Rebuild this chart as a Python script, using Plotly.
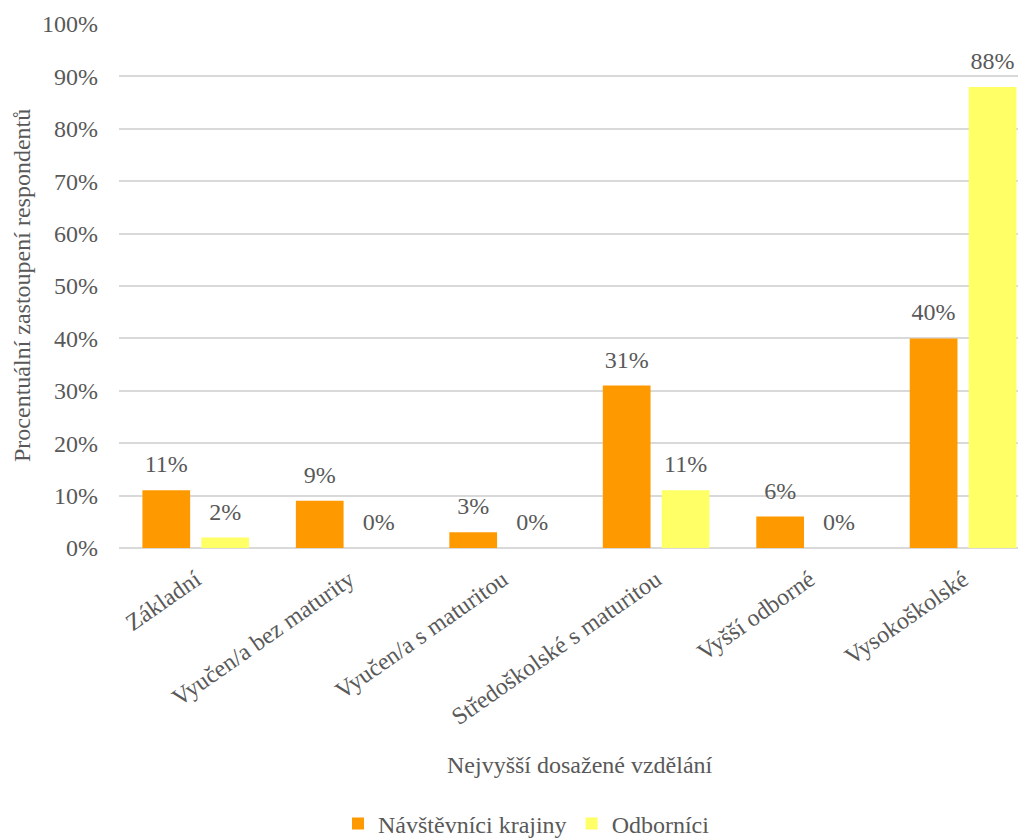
import plotly.graph_objects as go

categories = ["Základní", "Vyučen/a bez maturity", "Vyučen/a s maturitou",
              "Středoškolské s maturitou", "Vyšší odborné", "Vysokoškolské"]
navstevnici = [11, 9, 3, 31, 6, 40]
odbornici = [2, 0, 0, 11, 0, 88]
y_ticks = [0, 10, 20, 30, 40, 50, 60, 70, 80, 90, 100]
y_tick_labels = [f"{v}%" for v in y_ticks]

FONT = "Times New Roman, Liberation Serif, DejaVu Serif, serif"
TXT = "#595959"
FS = 24
COLORS = {"Návštěvníci krajiny": "#FF9900", "Odborníci": "#FFFF66"}
SERIES = {"Návštěvníci krajiny": navstevnici, "Odborníci": odbornici}

fig = go.Figure()
for i, (name, vals) in enumerate(SERIES.items()):
    fig.add_trace(go.Bar(
        name=name, x=categories, y=vals, offsetgroup=str(i),
        marker=dict(color=COLORS[name], line=dict(width=0)),
        hoverinfo="x+y",
    ))
for i, (name, vals) in enumerate(SERIES.items()):
    # data labels, grouped exactly like the bars
    fig.add_trace(go.Scatter(
        name=name + " labels", x=categories, y=vals, offsetgroup=str(i),
        mode="markers+text", text=[f"{v}%" for v in vals],
        textposition="top center",
        textfont=dict(family=FONT, size=FS, color=TXT),
        marker=dict(size=17.6, color="rgba(0,0,0,0)"),
        showlegend=False, hoverinfo="skip", cliponaxis=False,
    ))

W, H = 1018, 831
fig.update_layout(
    width=W, height=H,
    margin=dict(l=111, r=0, t=16, b=291),
    paper_bgcolor="white", plot_bgcolor="white",
    font=dict(family=FONT, size=FS, color=TXT),
    barmode="group", bargap=0.232, bargroupgap=0.19,
    scattermode="group", scattergap=0.232,
    showlegend=True,
    legend=dict(orientation="h", x=(338 - 119) / 907, xanchor="left",
                yref="container", y=1 - 816 / H, yanchor="middle",
                font=dict(family=FONT, size=FS, color=TXT),
                traceorder="normal"),
    xaxis=dict(tickangle=-35, tickfont=dict(family=FONT, size=FS, color=TXT),
               range=[-0.5, 5.41], ticklabelstandoff=12,
               showgrid=False, showline=False, ticks="", automargin=False),
    yaxis=dict(range=[0, 100], tickvals=y_ticks, ticktext=y_tick_labels,
               showgrid=True, gridcolor="#D9D9D9", gridwidth=1.5,
               zeroline=True, zerolinecolor="#D9D9D9", zerolinewidth=1.5,
               tickfont=dict(family=FONT, size=FS, color=TXT),
               ticklabelstandoff=20,
               ticks="", ticklen=0, automargin=False),
    annotations=[
        dict(text="Nejvyšší dosažené vzdělání", xref="paper", yref="paper",
             x=(580 - 119) / 907, y=(540 - 757) / 524, showarrow=False,
             yanchor="middle",
             font=dict(family=FONT, size=FS, color=TXT)),
        dict(text="Procentuální zastoupení respondentů", xref="paper", yref="paper",
             x=(22 - 119) / 907, y=0.5, textangle=-90, showarrow=False,
             xanchor="center", yanchor="middle",
             font=dict(family=FONT, size=FS, color=TXT)),
    ],
)

fig.write_html("out.html")
